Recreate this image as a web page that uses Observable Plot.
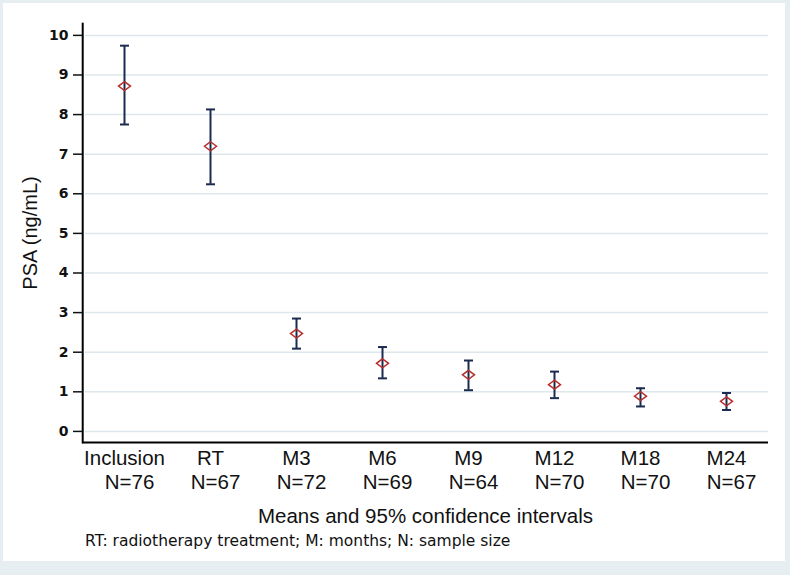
<!DOCTYPE html>
<html>
<head>
<meta charset="utf-8">
<script src="https://cdn.jsdelivr.net/npm/d3@7"></script>
<script src="https://cdn.jsdelivr.net/npm/@observablehq/plot@0.6"></script>
<style>
  html, body { margin: 0; padding: 0; }
  body { width: 790px; height: 575px; background: #e7eef1; position: relative; overflow: hidden; }
  #panel { position: absolute; left: 3px; top: 3px; width: 782px; height: 558px; background: #ffffff; }
  #chart { position: absolute; left: 0; top: 0; }
  #chart figure { margin: 0; }
  #chart figcaption {
    font-family: "DejaVu Sans", sans-serif; font-size: 15.5px; line-height: 20px;
    color: #111; margin-left: 85px; margin-top: 1px;
  }
  g[aria-label="y-axis label"], g[aria-label="y-axis label"] text {
    font-family: "Liberation Sans", Arial, sans-serif; font-size: 20px; font-weight: normal;
  }
  g[aria-label="x-axis label"], g[aria-label="x-axis label"] text {
    font-family: "Liberation Sans", Arial, sans-serif; font-size: 20.5px; font-weight: normal;
  }
</style>
</head>
<body>
<div id="panel"></div>
<div id="chart"></div>
<script>
// ---- data ----
const categories = ["Inclusion", "RT", "M3", "M6", "M9", "M12", "M18", "M24"];
const sampleSizes = [76, 67, 72, 69, 64, 70, 70, 67];
const means = [8.72, 7.20, 2.47, 1.72, 1.43, 1.18, 0.89, 0.76];
const lowerCI = [7.75, 6.24, 2.09, 1.34, 1.04, 0.84, 0.63, 0.54];
const upperCI = [9.74, 8.13, 2.85, 2.13, 1.79, 1.51, 1.09, 0.97];
const yTicks = [0, 1, 2, 3, 4, 5, 6, 7, 8, 9, 10];
const yDomain = [-0.28, 10.3];
const yLabel = "PSA (ng/mL)";
const xLabel = "Means and 95% confidence intervals";
const captionText = "RT: radiotherapy treatment; M: months; N: sample size";

const rows = categories.map((c, i) => ({cat: c, n: sampleSizes[i], mean: means[i], lo: lowerCI[i], hi: upperCI[i]}));

const W = 790, H = 530, ML = 82, MR = 22, MT = 23, MB = 88;
const frameW = W - ML - MR;

const navy = "#1b2b50";
const red = "#b5302e";

// flattened hollow diamond (Stata "Dh")
const flatDiamond = {
  draw(ctx, size) {
    const r = Math.sqrt(size / Math.PI);
    const h = r * 0.75;
    ctx.moveTo(0, -h); ctx.lineTo(r, 0); ctx.lineTo(0, h); ctx.lineTo(-r, 0); ctx.closePath();
  }
};
// horizontal cap for error bars
const capLine = {
  draw(ctx, size) {
    const r = Math.sqrt(size / Math.PI);
    ctx.moveTo(-r, 0); ctx.lineTo(r, 0);
  }
};

const chart = Plot.plot({
  width: W,
  height: H,
  marginLeft: ML,
  marginRight: MR,
  marginTop: MT,
  marginBottom: MB,
  style: {background: "transparent", fontFamily: "Liberation Sans, Arial, sans-serif", color: "#111"},
  x: {type: "point", domain: categories, padding: 0.47},
  y: {domain: yDomain},
  caption: captionText,
  marks: [
    Plot.gridY(yTicks, {stroke: "#dde7ec", strokeOpacity: 1, strokeWidth: 1.5, insetLeft: 3}),
    // y axis line: a hairline-wide frame hugging the left edge
    Plot.frame({stroke: "#000", strokeWidth: 1.6, fill: "none", insetRight: frameW - 0.4}),
    // x axis line at the bottom of the y domain
    Plot.ruleY([yDomain[0]], {stroke: "#000", strokeWidth: 2}),
    Plot.axisY(yTicks, {
      tickSize: 9, tickPadding: 5, fontSize: 14, fontWeight: "bold",
      fontFamily: "DejaVu Sans, sans-serif", strokeWidth: 1.5,
      label: yLabel, labelAnchor: "center", labelArrow: "none", labelOffset: 60
    }),
    Plot.axisX({
      tickSize: 0, tickPadding: 8, fontSize: 20.5,
      label: xLabel, labelAnchor: "center", labelArrow: "none", labelOffset: 80
    }),
    Plot.axisX({
      tickSize: 0, tickPadding: 32, dx: 5, fontSize: 20.5, label: null,
      tickFormat: (d) => `N=${sampleSizes[categories.indexOf(d)]}`
    }),
    Plot.ruleX(rows, {x: "cat", y1: "lo", y2: "hi", stroke: navy, strokeWidth: 2}),
    Plot.dot(rows, {x: "cat", y: "lo", symbol: capLine, r: 4.5, stroke: navy, strokeWidth: 2, fill: "none"}),
    Plot.dot(rows, {x: "cat", y: "hi", symbol: capLine, r: 4.5, stroke: navy, strokeWidth: 2, fill: "none"}),
    Plot.dot(rows, {x: "cat", y: "mean", symbol: flatDiamond, r: 6, stroke: red, strokeWidth: 1.5, fill: "none"})
  ]
});
document.getElementById("chart").appendChild(chart);
</script>
</body>
</html>
